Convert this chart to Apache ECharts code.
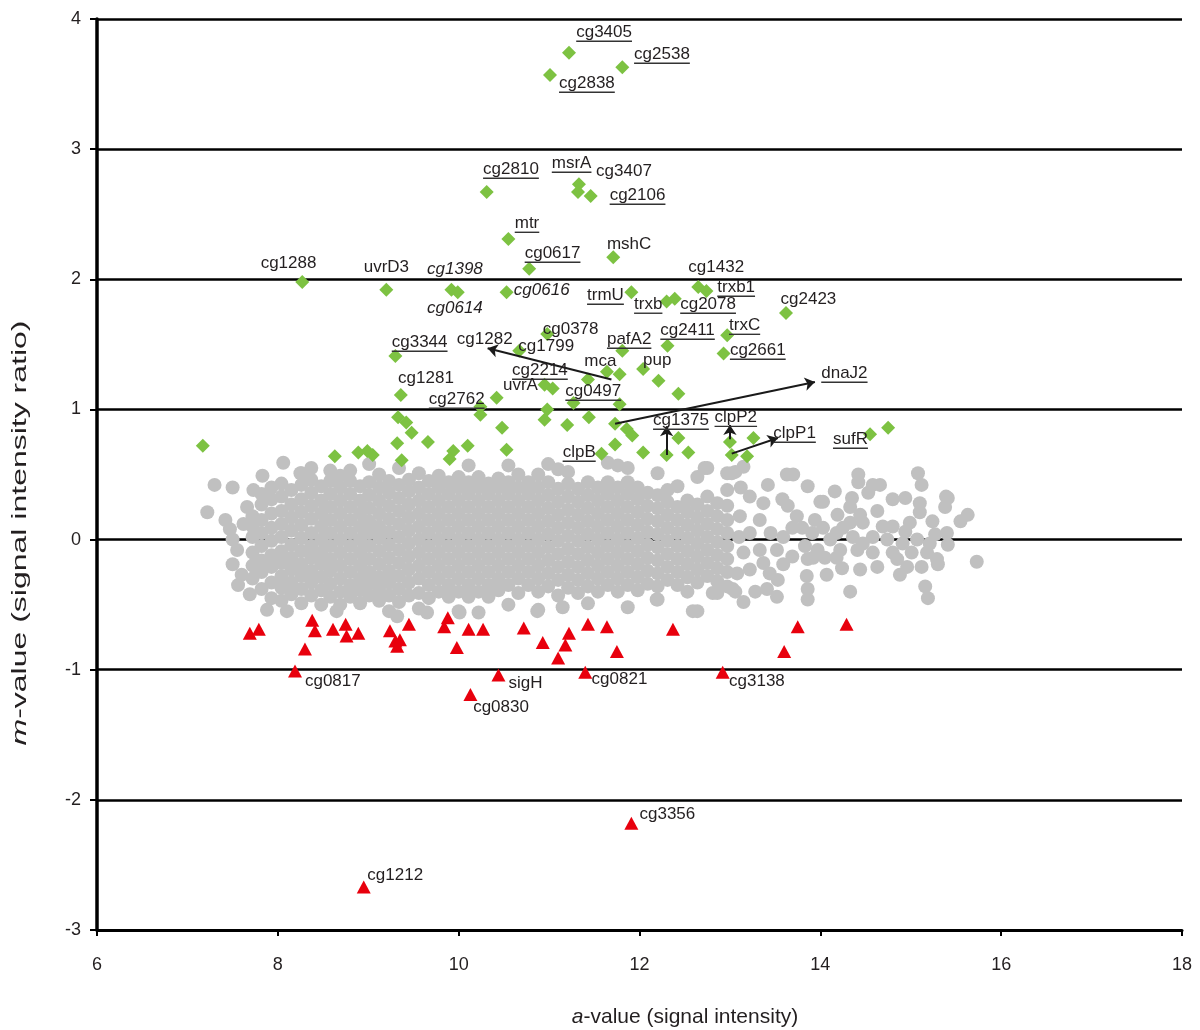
<!DOCTYPE html>
<html>
<head>
<meta charset="utf-8">
<script src="https://cdn.jsdelivr.net/npm/echarts@6/dist/echarts.min.js"></script>
<style>html,body{margin:0;padding:0;background:#fff;}#c{width:1200px;height:1030px;}</style>
</head>
<body>
<div id="c"></div>
<script>
// ---------- DATA ----------
// non-regulated genes (grey cloud), read by vertical strips: [a-value, [m-values]]
const grayCols = [
 [7.72,[-0.30,-0.20,-0.10,0.02,0.10,0.18]],
 [7.82,[-0.38,-0.25,-0.16,-0.05,0.05,0.15,0.27,0.35]],
 [7.93,[-0.45,-0.33,-0.21,-0.12,-0.01,0.09,0.20,0.31,0.40]],
 [8.04,[-0.47,-0.37,-0.28,-0.18,-0.09,0.02,0.12,0.22,0.33,0.43]],
 [8.15,[-0.42,-0.33,-0.23,-0.14,-0.04,0.07,0.17,0.27,0.38]],
 [8.26,[-0.49,-0.38,-0.28,-0.19,-0.09,0.01,0.11,0.21,0.31,0.42,0.51]],
 [8.37,[-0.43,-0.33,-0.24,-0.14,-0.05,0.05,0.16,0.26,0.36,0.46,0.55]],
 [8.48,[-0.50,-0.39,-0.29,-0.19,-0.10,0.00,0.10,0.20,0.30,0.41]],
 [8.58,[-0.44,-0.34,-0.24,-0.15,-0.05,0.05,0.15,0.25,0.35,0.45,0.53]],
 [8.69,[-0.50,-0.40,-0.30,-0.20,-0.10,0.00,0.10,0.20,0.30,0.40,0.49]],
 [8.80,[-0.44,-0.35,-0.25,-0.15,-0.05,0.05,0.15,0.25,0.35,0.45,0.53]],
 [8.91,[-0.49,-0.39,-0.30,-0.20,-0.10,0.00,0.10,0.20,0.30,0.41]],
 [9.01,[-0.43,-0.34,-0.25,-0.15,-0.05,0.05,0.14,0.24,0.34,0.44,0.58]],
 [9.12,[-0.47,-0.38,-0.29,-0.19,-0.09,0.01,0.10,0.20,0.30,0.40,0.50]],
 [9.23,[-0.55,-0.43,-0.33,-0.24,-0.14,-0.04,0.06,0.16,0.26,0.36,0.45]],
 [9.34,[-0.48,-0.38,-0.28,-0.18,-0.08,0.02,0.12,0.22,0.32,0.42,0.55]],
 [9.45,[-0.43,-0.33,-0.23,-0.13,-0.03,0.07,0.17,0.27,0.37,0.46]],
 [9.56,[-0.53,-0.41,-0.30,-0.20,-0.10,0.00,0.10,0.20,0.30,0.40,0.51]],
 [9.67,[-0.45,-0.35,-0.25,-0.15,-0.05,0.05,0.15,0.25,0.35,0.45]],
 [9.78,[-0.40,-0.30,-0.20,-0.10,0.00,0.10,0.20,0.30,0.40,0.49]],
 [9.89,[-0.44,-0.35,-0.25,-0.15,-0.05,0.05,0.15,0.25,0.35,0.44]],
 [10.00,[-0.55,-0.40,-0.30,-0.20,-0.10,0.00,0.10,0.20,0.30,0.40,0.48]],
 [10.11,[-0.44,-0.35,-0.25,-0.15,-0.05,0.05,0.15,0.25,0.35,0.44,0.57]],
 [10.22,[-0.56,-0.40,-0.30,-0.20,-0.10,0.00,0.10,0.20,0.30,0.40,0.48]],
 [10.33,[-0.44,-0.35,-0.25,-0.15,-0.05,0.05,0.15,0.25,0.35,0.43]],
 [10.44,[-0.39,-0.30,-0.20,-0.10,0.00,0.10,0.20,0.30,0.40,0.47]],
 [10.55,[-0.50,-0.35,-0.25,-0.15,-0.05,0.05,0.15,0.25,0.35,0.44,0.57]],
 [10.66,[-0.41,-0.30,-0.20,-0.10,0.00,0.10,0.20,0.30,0.40,0.50]],
 [10.77,[-0.35,-0.25,-0.15,-0.05,0.05,0.15,0.25,0.35,0.44]],
 [10.88,[-0.54,-0.40,-0.30,-0.20,-0.10,0.00,0.10,0.20,0.30,0.40,0.50]],
 [10.99,[-0.36,-0.26,-0.16,-0.06,0.04,0.14,0.24,0.34,0.44,0.58]],
 [11.10,[-0.43,-0.31,-0.21,-0.11,-0.01,0.09,0.19,0.29,0.39,0.54]],
 [11.21,[-0.37,-0.27,-0.17,-0.07,0.03,0.13,0.23,0.33,0.43,0.52]],
 [11.32,[-0.41,-0.31,-0.21,-0.11,-0.01,0.09,0.19,0.29,0.39]],
 [11.43,[-0.49,-0.36,-0.26,-0.16,-0.06,0.04,0.14,0.24,0.34,0.44]],
 [11.54,[-0.40,-0.30,-0.20,-0.10,0.00,0.10,0.20,0.30,0.40]],
 [11.65,[-0.35,-0.25,-0.15,-0.05,0.05,0.15,0.25,0.35,0.44,0.59]],
 [11.76,[-0.40,-0.30,-0.20,-0.10,0.00,0.10,0.20,0.30,0.40,0.57]],
 [11.87,[-0.52,-0.35,-0.25,-0.15,-0.05,0.05,0.15,0.25,0.35,0.44,0.55]],
 [11.98,[-0.39,-0.29,-0.19,-0.09,0.01,0.11,0.21,0.31,0.40]],
 [12.09,[-0.34,-0.24,-0.14,-0.04,0.06,0.16,0.26,0.36]],
 [12.20,[-0.46,-0.36,-0.26,-0.16,-0.06,0.04,0.14,0.24,0.34,0.51]],
 [12.31,[-0.31,-0.21,-0.11,-0.01,0.09,0.19,0.29,0.38]],
 [12.42,[-0.35,-0.25,-0.15,-0.05,0.05,0.15,0.25,0.41]],
 [12.53,[-0.40,-0.29,-0.19,-0.09,0.01,0.11,0.21,0.30]],
 [12.64,[-0.55,-0.33,-0.23,-0.13,-0.03,0.07,0.17,0.27,0.48]],
 [12.75,[-0.28,-0.18,-0.08,0.02,0.12,0.22,0.33,0.55]],
 [12.86,[-0.41,-0.32,-0.22,-0.12,-0.02,0.08,0.18,0.28]],
 [12.97,[-0.36,-0.25,-0.15,-0.05,0.05,0.15,0.26,0.38,0.51]]
];
// isolated grey points at the two ends of the cloud: [a, m]
const grayExtra = [
 [7.22,0.21],[7.30,0.42],[7.50,0.40],[7.42,0.15],[7.47,0.08],[7.50,0.00],[7.55,-0.08],[7.50,-0.19],
 [7.56,-0.35],[7.69,-0.42],[7.88,-0.54],[8.10,-0.55],[8.06,0.59],[7.83,0.49],[7.73,0.38],[7.66,0.25],
 [7.60,-0.27],[7.62,0.12],[8.25,0.51],[8.65,-0.55],[9.32,-0.59],[9.65,-0.56],[10.01,-0.56],[10.87,-0.55],
 [11.15,-0.52],[12.19,-0.46],[12.59,-0.55],[12.81,-0.41],[13.03,-0.38],[12.72,0.55],[13.02,0.51],
 [13.06,0.52],[13.15,0.56],[13.42,0.42],[13.63,0.50],[13.70,0.50],[13.86,0.41],[14.42,0.50],[14.42,0.44],
 [14.58,0.42],[14.66,0.42],[14.53,0.36],[15.08,0.51],[15.12,0.42],[14.16,0.37],[14.03,0.29],[14.35,0.32],
 [14.63,0.22],[14.80,0.31],[14.94,0.32],[15.10,0.28],[15.10,0.21],[15.41,0.32],[15.38,0.25],[15.63,0.19],
 [15.55,0.14],[15.24,0.14],[15.27,0.04],[15.41,-0.04],[15.73,-0.17],[15.16,-0.36],[15.19,-0.45],[15.12,-0.21],
 [15.30,-0.19],[14.96,-0.21],[14.88,-0.27],[15.01,-0.10],[14.80,-0.10],[14.80,0.10],[14.94,0.06],[14.99,0.13],
 [14.63,-0.21],[14.58,-0.10],[14.41,-0.08],[14.44,-0.23],[14.33,-0.40],[14.47,0.13],[14.44,0.19],[14.33,0.25],
 [14.19,0.19],[14.25,0.09],[14.11,0.00],[14.18,-0.14],[14.24,-0.22],[14.07,-0.27],[13.97,-0.08],[13.91,0.05],
 [13.94,0.15],[14.00,0.29],[13.80,0.09],[13.83,-0.05],[13.86,-0.15],[13.85,-0.28],[13.86,-0.38],[13.86,-0.46],
 [13.52,-0.44],[13.41,-0.38],[13.53,-0.31],[13.44,-0.26],[13.15,-0.48],[13.06,-0.40],[13.59,-0.19],[13.52,-0.08],
 [13.69,-0.13],[13.59,0.02],[13.69,0.09],[13.74,0.18],[13.58,0.31],[13.64,0.26],[13.37,0.28],[13.22,0.33],
 [13.33,0.15],[13.11,0.18],[13.22,0.05],[13.15,-0.10],[13.33,-0.08],[13.37,-0.18],[13.22,-0.23],[13.08,-0.26],
 [14.03,0.09],[14.18,0.05],[14.74,0.00],[14.91,-0.03],[15.07,0.00],[15.21,-0.03],[15.40,0.05],[15.18,-0.10],
 [15.29,-0.15],[14.85,-0.15],[14.69,0.10],[14.58,0.02],[14.47,-0.03],[14.36,0.02],[14.33,0.13],[14.22,-0.08],
 [14.05,-0.14],[13.92,-0.14],[15.39,0.33],[13.10,0.02],[13.12,0.40],[13.28,-0.40],[13.45,0.05]
];
// up-regulated genes (green diamonds): [a, m]
const upGenes = [
 [11.22,3.74],[11.81,3.63],[11.01,3.57],[10.31,2.67],[11.33,2.73],[11.32,2.67],[11.46,2.64],[10.55,2.31],
 [10.78,2.08],[11.71,2.17],[8.27,1.98],[9.20,1.92],[9.92,1.92],[9.99,1.90],[10.53,1.90],[11.91,1.90],
 [12.30,1.83],[12.39,1.85],[12.65,1.94],[12.74,1.91],[13.62,1.74],[12.97,1.57],[12.93,1.43],[12.31,1.49],
 [11.81,1.45],[12.04,1.31],[12.21,1.22],[12.43,1.12],[11.78,1.27],[11.64,1.29],[11.43,1.23],[9.30,1.41],
 [9.36,1.11],[10.98,1.58],[10.67,1.45],[10.95,1.19],[11.04,1.16],[11.27,1.05],[10.42,1.09],[10.24,1.02],
 [10.24,0.96],[10.48,0.86],[10.53,0.69],[10.10,0.72],[9.94,0.68],[9.90,0.62],[9.66,0.75],[9.48,0.82],
 [9.33,0.94],[9.42,0.90],[9.32,0.74],[9.37,0.61],[8.99,0.68],[9.05,0.65],[8.89,0.67],[8.63,0.64],
 [10.98,1.00],[10.95,0.92],[11.20,0.88],[11.44,0.94],[11.73,0.89],[11.86,0.85],[11.92,0.80],[11.73,0.73],
 [11.58,0.66],[11.78,1.04],[12.04,0.67],[12.30,0.65],[12.43,0.78],[12.54,0.67],[13.00,0.75],[13.26,0.78],
 [13.02,0.65],[13.19,0.64],[14.55,0.81],[14.75,0.86],[7.17,0.72]
];
// down-regulated genes (red triangles): [a, m]
const downGenes = [
 [7.69,-0.72],[7.79,-0.69],[8.38,-0.62],[8.41,-0.70],[8.30,-0.84],[8.19,-1.01],[8.61,-0.69],[8.75,-0.65],
 [8.76,-0.74],[8.89,-0.72],[9.24,-0.70],[9.30,-0.78],[9.32,-0.82],[9.35,-0.77],[9.45,-0.65],[9.84,-0.67],
 [9.88,-0.60],[9.98,-0.83],[10.11,-0.69],[10.27,-0.69],[10.13,-1.19],[10.44,-1.04],[10.72,-0.68],[10.93,-0.79],
 [11.10,-0.91],[11.18,-0.81],[11.22,-0.72],[11.43,-0.65],[11.64,-0.67],[11.40,-1.02],[11.75,-0.86],[12.37,-0.69],
 [12.92,-1.02],[13.60,-0.86],[13.75,-0.67],[14.29,-0.65],[11.91,-2.18],[8.95,-2.67]
];
const xTicks = [6, 8, 10, 12, 14, 16, 18];
const yTicks = [-3, -2, -1, 0, 1, 2, 3, 4];

// ---------- ANNOTATIONS ----------
// [text, a, m (left / middle anchor), style: u = underlined, i = italic, '' = plain]
const labels = [
 ['cg3405',11.30,3.896,'u'],['cg2538',11.94,3.727,'u'],['cg2838',11.11,3.504,'u'],
 ['cg2810',10.27,2.843,'u'],['msrA',11.03,2.889,'u'],['cg3407',11.52,2.828,''],['cg2106',11.67,2.643,'u'],
 ['mtr',10.62,2.428,'u'],['cg0617',10.73,2.198,'u'],['mshC',11.64,2.267,''],
 ['cg1288',7.81,2.121,''],['uvrD3',8.95,2.090,''],['cg1398',9.65,2.075,'i'],['cg0614',9.65,1.775,'i'],
 ['cg0616',10.61,1.913,'i'],['trmU',11.42,1.875,'u'],['trxb',11.94,1.806,'u'],['cg2078',12.45,1.806,'u'],
 ['cg1432',12.54,2.090,''],['trxb1',12.86,1.936,'u'],['cg2423',13.56,1.844,''],['trxC',12.99,1.644,'u'],
 ['cg2661',13.00,1.452,'u'],['cg2411',12.23,1.606,'u'],['pafA2',11.64,1.537,'u'],['pup',12.04,1.375,''],
 ['mca',11.39,1.368,''],['cg1282',9.98,1.537,''],['cg0378',10.93,1.614,''],['cg1799',10.66,1.483,''],
 ['cg3344',9.26,1.514,'u'],['cg1281',9.33,1.237,''],['cg2214',10.59,1.299,'u'],['uvrA',10.49,1.183,''],
 ['cg0497',11.18,1.137,'u'],['cg2762',9.67,1.076,'u'],['dnaJ2',14.01,1.276,'u'],['cg1375',12.15,0.914,'u'],
 ['clpP2',12.83,0.937,'u'],['clpP1',13.48,0.815,'u'],['clpB',11.15,0.669,'u'],['sufR',14.14,0.768,'u'],
 ['cg0817',8.30,-1.091,''],['sigH',10.55,-1.107,''],['cg0830',10.16,-1.291,''],['cg0821',11.47,-1.076,''],
 ['cg3138',12.99,-1.091,''],['cg3356',12.00,-2.113,''],['cg1212',8.99,-2.582,'']
];
// arrows: [a1, m1, a2, m2] (tail -> head)
const arrows = [
 [11.69,1.23,10.32,1.47],
 [11.73,0.89,13.94,1.21],
 [12.30,0.65,12.30,0.87],
 [13.00,0.77,13.00,0.88],
 [13.02,0.66,13.53,0.78]
];

// ---------- CHART ----------
const FONT = '"Liberation Sans", Arial, sans-serif';
const TXT = '#231f20';
const grayData = grayCols.flatMap(c => c[1].map(y => [c[0], y])).concat(grayExtra);

const mctx = document.createElement('canvas').getContext('2d');
function textWidth(t, italic) {
  mctx.font = (italic ? 'italic ' : '') + '17px ' + FONT;
  return mctx.measureText(t).width;
}

const chart = echarts.init(document.getElementById('c'), null, {renderer: 'canvas'});
chart.setOption({
  animation: false,
  backgroundColor: '#fff',
  grid: {left: 97, right: 18, top: 19, bottom: 100, containLabel: false},
  xAxis: {
    type: 'value', min: xTicks[0], max: xTicks[xTicks.length - 1], interval: 2,
    axisLine: {show: true, onZero: false, lineStyle: {color: '#000', width: 3}},
    axisTick: {show: true, length: 6, lineStyle: {color: '#000', width: 2}},
    axisLabel: {color: TXT, fontSize: 18, fontFamily: FONT, margin: 26},
    splitLine: {show: false}
  },
  yAxis: {
    type: 'value', min: yTicks[0], max: yTicks[yTicks.length - 1], interval: 1,
    axisLine: {show: true, onZero: false, lineStyle: {color: '#000', width: 3.5}},
    axisTick: {show: true, length: 7, lineStyle: {color: '#000', width: 2}},
    axisLabel: {color: TXT, fontSize: 18, fontFamily: FONT, margin: 16},
    splitLine: {show: true, lineStyle: {color: '#000', width: 2.5}}
  },
  graphic: [
    {type: 'text', x: 685, y: 1017, z: 10,
     style: {text: '{i|a}-value (signal intensity)', fontSize: 21, fontFamily: FONT, fill: TXT,
             align: 'center', verticalAlign: 'middle',
             rich: {i: {fontStyle: 'italic', fontSize: 21, fontFamily: FONT, fill: TXT}}}},
    {type: 'text', x: 20, y: 533, rotation: Math.PI / 2, scaleX: 1.6, z: 10,
     style: {text: '{i|m}-value (signal intensity ratio)', fontSize: 20, fontFamily: FONT, fill: TXT,
             align: 'center', verticalAlign: 'middle',
             rich: {i: {fontStyle: 'italic', fontSize: 20, fontFamily: FONT, fill: TXT}}}}
  ],
  series: [
    {type: 'scatter', name: 'unchanged', data: grayData, symbol: 'circle', symbolSize: 14,
     itemStyle: {color: '#c0c0c0', opacity: 1}, z: 2, silent: true, large: false},
    {type: 'scatter', name: 'up', data: upGenes, symbol: 'diamond', symbolSize: [14, 14],
     itemStyle: {color: '#7dc242', opacity: 1}, z: 3, silent: true},
    {type: 'scatter', name: 'down', data: downGenes, symbol: 'triangle', symbolSize: [14, 13],
     itemStyle: {color: '#e8000d', opacity: 1}, z: 3, silent: true},
    {type: 'lines', coordinateSystem: 'cartesian2d', z: 4, silent: true,
     data: arrows.map(a => ({coords: [[a[0], a[1]], [a[2], a[3]]]})),
     symbol: ['none', 'arrow'], symbolSize: 10,
     lineStyle: {color: '#1a1a1a', width: 2, opacity: 1, curveness: 0}},
    {type: 'custom', z: 5, silent: true, clip: false,
     data: labels.map(l => [l[1], l[2]]),
     encode: {x: 0, y: 1},
     renderItem: function (params, api) {
       const l = labels[params.dataIndex];
       const p = api.coord([l[1], l[2]]);
       const italic = l[3] === 'i';
       const children = [{
         type: 'text', x: p[0], y: p[1],
         style: {text: l[0], fontSize: 17, fontFamily: FONT, fontStyle: italic ? 'italic' : 'normal',
                 fill: TXT, align: 'left', verticalAlign: 'middle'}
       }];
       if (l[3] === 'u') {
         children.push({type: 'rect', shape: {x: p[0], y: p[1] + 8, width: textWidth(l[0], false), height: 1.4},
                        style: {fill: '#333'}});
       }
       return {type: 'group', children: children};
     }}
  ]
});
</script>
</body>
</html>
